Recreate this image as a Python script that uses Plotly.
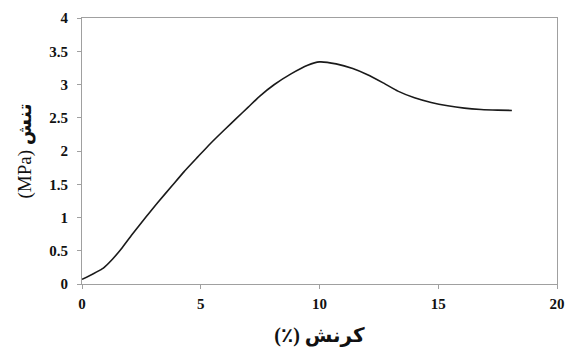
import plotly.graph_objects as go

strain = [0, 0.9, 1.3, 1.7, 2.1, 2.7, 3.2, 3.8, 4.3, 4.9, 5.4, 6.0, 6.5, 7.0, 7.5, 8.1,
          8.8, 9.5, 10.0, 10.7, 11.4, 12.0, 12.7, 13.3, 14.0, 14.7, 15.4, 16.1, 16.8, 17.5, 18.1]
stress = [0.07, 0.24, 0.38, 0.55, 0.74, 1.01, 1.23, 1.48, 1.69, 1.92, 2.11, 2.32, 2.49, 2.66, 2.83, 3.00,
          3.16, 3.29, 3.34, 3.31, 3.24, 3.15, 3.02, 2.90, 2.80, 2.73, 2.68, 2.645, 2.625, 2.615, 2.61]

x_ticks = [0, 5, 10, 15, 20]
x_labels = ["0", "5", "10", "15", "20"]
y_ticks = [0, 0.5, 1, 1.5, 2, 2.5, 3, 3.5, 4]
y_labels = ["0", "0.5", "1", "1.5", "2", "2.5", "3", "3.5", "4"]

x_title = "(٪) کرنش"
y_title_unit = "(MPa)"
y_title_word = "تنش"

font_family = "Times New Roman, Liberation Serif, serif"

fig = go.Figure()
fig.add_trace(go.Scatter(
    x=strain, y=stress, mode="lines",
    line=dict(color="#1a1a1a", width=1.6, shape="spline", smoothing=0.5),
    showlegend=False, hoverinfo="skip",
))

tfont = dict(family=font_family, size=15, color="#111111", weight="bold")
axis_common = dict(
    showgrid=False, zeroline=False, showline=True, linecolor="#a0a0a0", linewidth=1,
    mirror=True, ticks="outside", ticklen=4, tickcolor="#a0a0a0",
    tickfont=tfont,
)

title_family = "Times New Roman, Liberation Serif, DejaVu Sans"

fig.update_layout(
    width=575, height=352,
    margin=dict(l=82, r=10, t=16, b=64),
    paper_bgcolor="white", plot_bgcolor="white",
    xaxis=dict(range=[0, 20], tickvals=x_ticks, ticktext=x_labels, ticklabelstandoff=2,
               title=dict(text=x_title, standoff=16,
                          font=dict(family=title_family, size=20, color="#111111", weight="bold")),
               **axis_common),
    yaxis=dict(range=[0, 4], tickvals=y_ticks, ticktext=y_labels, ticklabelstandoff=6,
               title=dict(text=y_title_unit + " <b>" + y_title_word + "</b>", standoff=12,
                          font=dict(family=title_family, size=19, color="#111111")),
               **axis_common),
)

fig.write_html("out.html")
